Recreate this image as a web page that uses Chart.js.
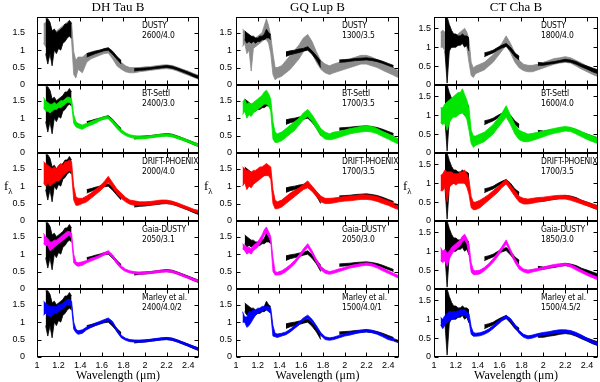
<!DOCTYPE html>
<html>
<head>
<meta charset="utf-8">
<script src="https://cdn.jsdelivr.net/npm/chart.js@4/dist/chart.umd.min.js"></script>
<style>
  body { margin: 0; width: 600px; height: 382px; background: #fff; position: relative; overflow: hidden; font-family: "Liberation Sans", Arial, sans-serif; }
  canvas { position: absolute; }
  .t { position: absolute; z-index: 2; font-family: "Liberation Serif", "Times New Roman", serif; color: #000; white-space: nowrap; transform: translateX(-50%); }
  .m { position: absolute; z-index: 2; font-family: "Liberation Sans Narrow", "DejaVu Sans Condensed", sans-serif; font-size: 8.5px; letter-spacing: -0.2px; line-height: 10px; color: #000; white-space: nowrap; }
  .fl { position: absolute; z-index: 2; font-family: "Liberation Serif", serif; font-size: 13px; color: #000; }
  .fl sub { font-size: 9px; }
</style>
</head>
<body>
<script>
// wavelength grid (micron) shared by all spectra
const W = [1.06,1.08,1.10,1.12,1.14,1.16,1.18,1.20,1.22,1.24,1.26,1.28,1.30,1.32,
           1.34,1.36,1.38,1.42,1.46,1.50,1.54,1.58,1.62,1.66,1.70,1.74,1.78,1.82,1.86,1.90,
           1.95,2.00,2.05,2.10,2.15,2.20,2.25,2.30,2.35,2.40,2.45,2.50];

const targets = ['DH Tau B', 'GQ Lup B', 'CT Cha B'];
const models = ['DUSTY', 'BT-Settl', 'DRIFT-PHOENIX', 'Gaia-DUSTY', 'Marley et al.'];
const params = [
  ['2600/4.0', '2400/3.0', '2000/4.0', '2050/3.1', '2400/4.0/2'],
  ['1300/3.5', '1700/3.5', '1700/3.5', '2050/3.0', '1500/4.0/1'],
  ['1800/4.0', '1600/4.0', '1700/3.5', '1850/3.0', '1500/4.5/2']
];
const xTicks = [1, 1.2, 1.4, 1.6, 1.8, 2, 2.2, 2.4];
const yTicks = [0, 0.5, 1, 1.5];
const yMax = [1.95, 1.95, 1.8];

// observed spectra (lower / upper edge of the noisy trace)
const dhObsLo = [null,0.9,0.6,0.9,0.55,1.0,0.9,1.05,1.0,1.2,1.25,1.35,1.4,1.35, null,null,null,null, 0.8,0.85,0.9,0.94,0.98,1.0,0.88,0.74,0.6, null,null, 0.4,0.42,0.43,0.45,0.47,0.49,0.5,0.48,0.43,0.37,0.31,0.24,0.18];
const dhObsHi = [null,1.9,1.9,1.8,1.55,1.6,1.5,1.55,1.6,1.65,1.75,1.75,1.85,1.75, null,null,null,null, 0.9,0.93,0.97,1.0,1.04,1.07,0.97,0.82,0.7, null,null, 0.47,0.48,0.49,0.5,0.52,0.54,0.56,0.54,0.49,0.43,0.37,0.31,0.25];
const gqObsLo = [null,1.3,1.2,1.25,1.2,1.25,1.2,1.25,1.25,1.3,1.3,1.35,1.35,1.3, null,null,null,null, 0.82,0.87,0.9,0.93,0.97,1.0,0.88,0.72,0.5, null,null, null,0.65,0.66,0.68,0.7,0.71,0.72,0.7,0.67,0.62,0.56,0.5,null];
const gqObsHi = [null,1.55,1.5,1.45,1.4,1.4,1.35,1.35,1.4,1.4,1.45,1.6,1.5,1.45, null,null,null,null, 0.95,0.98,1.0,1.03,1.05,1.1,0.98,0.84,0.68, null,null, null,0.72,0.73,0.74,0.76,0.77,0.78,0.76,0.73,0.68,0.62,0.56,null];
const ctObsLo = [null,null,0.9,0.05,0.9,1.0,1.0,1.0,1.05,1.05,1.1,1.0,1.05,0.9, null,null,null,null, 0.75,0.8,0.85,0.92,0.98,1.02,0.9,0.75,0.66, null,null, null,0.52,0.52,0.55,0.57,0.6,0.62,0.6,0.55,0.48,0.42,0.35,0.3];
const ctObsHi = [null,null,1.8,1.8,1.6,1.45,1.35,1.35,1.3,1.3,1.35,1.3,1.3,1.25, null,null,null,null, 0.85,0.88,0.92,0.99,1.05,1.1,1.0,0.85,0.76, null,null, null,0.6,0.58,0.6,0.62,0.65,0.68,0.66,0.62,0.55,0.5,0.45,0.4];

// DH Tau B models
const dhDustyLo = [1.2,1.1,1.0,1.05,0.9,1.1,1.1,1.15,1.2,1.25,1.35,1.4,1.45,1.3, 0.3,0.2,0.45,0.35, 0.65,0.75,0.8,0.85,0.9,0.92,0.75,0.55,0.45, 0.38,0.35, 0.35,0.38,0.4,0.42,0.44,0.46,0.47,0.45,0.4,0.34,0.28,0.22,0.16];
const dhDustyHi = [1.75,1.8,1.75,1.7,1.55,1.6,1.55,1.6,1.65,1.7,1.75,1.8,1.85,1.8, 0.95,0.7,0.8,0.8, 0.9,0.95,0.98,1.0,1.03,1.05,0.95,0.8,0.65, 0.55,0.5, 0.5,0.5,0.52,0.53,0.55,0.57,0.58,0.56,0.51,0.45,0.4,0.33,0.27];
const dhSettlLo = [1.3,1.2,1.2,1.15,1.2,1.25,1.25,1.3,1.3,1.35,1.4,1.45,1.45,1.4, 0.85,0.75,0.72,0.68, 0.75,0.8,0.85,0.92,0.97,0.98,0.85,0.7,0.58, 0.5,0.45, 0.42,0.4,0.41,0.43,0.45,0.47,0.48,0.46,0.41,0.36,0.3,0.24,0.18];
const dhSettlHi = [1.6,1.5,1.45,1.4,1.4,1.45,1.4,1.45,1.5,1.5,1.55,1.6,1.6,1.55, 1.1,0.9,0.85,0.8, 0.85,0.9,0.95,1.0,1.04,1.05,0.95,0.8,0.67, 0.58,0.52, 0.5,0.48,0.48,0.5,0.52,0.54,0.55,0.53,0.48,0.43,0.37,0.31,0.25];
const dhDriftLo = [1.1,1.0,1.1,1.0,1.05,1.1,1.15,1.15,1.2,1.3,1.35,1.4,1.45,1.4, 0.6,0.45,0.45,0.5, 0.55,0.65,0.75,0.85,0.97,1.12,0.95,0.78,0.65, 0.55,0.48, 0.45,0.45,0.45,0.46,0.48,0.5,0.5,0.48,0.43,0.37,0.32,0.26,0.22];
const dhDriftHi = [1.7,1.65,1.6,1.55,1.5,1.55,1.5,1.6,1.65,1.6,1.7,1.7,1.75,1.7, 1.0,0.7,0.65,0.65, 0.72,0.8,0.9,1.0,1.12,1.28,1.1,0.92,0.8, 0.68,0.6, 0.58,0.55,0.55,0.56,0.58,0.6,0.6,0.57,0.52,0.46,0.4,0.34,0.3];
const dhGaiaLo = [1.3,1.25,1.25,1.1,1.15,1.2,1.25,1.3,1.35,1.4,1.45,1.5,1.55,1.45, 0.75,0.68,0.65,0.68, 0.75,0.8,0.85,0.9,0.97,1.02,0.9,0.72,0.58, 0.5,0.46, 0.44,0.42,0.43,0.44,0.46,0.48,0.49,0.47,0.42,0.36,0.3,0.24,0.19];
const dhGaiaHi = [1.6,1.5,1.45,1.35,1.35,1.4,1.4,1.45,1.5,1.55,1.6,1.65,1.65,1.6, 1.0,0.78,0.75,0.78, 0.82,0.88,0.92,0.97,1.04,1.1,0.98,0.8,0.66, 0.57,0.52, 0.5,0.48,0.49,0.5,0.52,0.54,0.55,0.53,0.48,0.42,0.36,0.3,0.25];
const dhMarleyLo = [1.2,1.25,1.2,1.15,1.2,1.25,1.25,1.3,1.35,1.4,1.45,1.5,1.5,1.45, 0.8,0.7,0.65,0.68, 0.78,0.85,0.9,0.95,1.0,1.05,0.95,0.72,0.55, 0.48,0.44, 0.43,0.42,0.43,0.45,0.47,0.49,0.5,0.48,0.43,0.37,0.31,0.25,0.2];
const dhMarleyHi = [1.6,1.55,1.5,1.45,1.45,1.45,1.45,1.5,1.5,1.55,1.6,1.65,1.65,1.6, 1.0,0.8,0.75,0.78, 0.86,0.92,0.97,1.02,1.07,1.12,1.02,0.8,0.62, 0.54,0.5, 0.49,0.48,0.49,0.51,0.53,0.55,0.56,0.54,0.49,0.43,0.37,0.31,0.26];

// GQ Lup B models
const gqDustyLo = [1.1,1.2,0.9,1.0,0.4,1.05,1.1,1.15,1.2,1.25,1.3,1.3,1.2,0.9, 0.3,0.15,0.2,0.25, 0.35,0.45,0.6,0.75,0.95,1.1,0.9,0.65,0.45, 0.35,0.3, 0.35,0.4,0.45,0.5,0.55,0.6,0.6,0.55,0.5,0.42,0.35,0.28,0.2];
const gqDustyHi = [1.6,1.55,1.45,1.45,1.4,1.35,1.35,1.4,1.45,1.5,1.7,1.9,1.7,1.4, 0.9,0.5,0.5,0.55, 0.7,0.85,1.0,1.15,1.35,1.45,1.25,0.95,0.7, 0.6,0.55, 0.6,0.65,0.7,0.75,0.8,0.85,0.85,0.8,0.72,0.62,0.55,0.48,0.4];
const gqSettlLo = [1.1,1.2,1.0,1.1,1.05,1.15,1.2,1.25,1.3,1.35,1.4,1.4,1.35,1.2, 0.4,0.3,0.3,0.35, 0.45,0.55,0.65,0.8,0.95,1.05,0.9,0.7,0.5, 0.4,0.38, 0.4,0.45,0.5,0.55,0.58,0.6,0.62,0.6,0.55,0.47,0.4,0.32,0.25];
const gqSettlHi = [1.45,1.55,1.4,1.45,1.4,1.45,1.5,1.55,1.6,1.65,1.75,1.8,1.7,1.55, 0.9,0.6,0.55,0.6, 0.7,0.8,0.9,1.0,1.15,1.25,1.1,0.9,0.7, 0.6,0.55, 0.6,0.62,0.66,0.7,0.73,0.76,0.78,0.76,0.7,0.62,0.55,0.47,0.4];
const gqDriftLo = [1.0,1.1,0.9,1.0,0.95,1.05,1.1,1.15,1.2,1.25,1.3,1.3,1.3,1.2, 0.5,0.35,0.35,0.4, 0.5,0.6,0.7,0.8,0.9,0.95,0.85,0.7,0.55, 0.5,0.5, 0.52,0.55,0.57,0.58,0.6,0.62,0.62,0.6,0.56,0.5,0.45,0.38,0.32];
const gqDriftHi = [1.55,1.5,1.45,1.45,1.4,1.45,1.45,1.5,1.55,1.55,1.6,1.65,1.6,1.55, 0.9,0.6,0.55,0.6, 0.7,0.8,0.88,0.95,1.05,1.15,1.0,0.85,0.72, 0.65,0.65, 0.66,0.68,0.7,0.72,0.73,0.75,0.75,0.73,0.7,0.64,0.58,0.52,0.46];
const gqGaiaLo = [1.15,1.1,1.0,1.05,1.0,1.1,1.15,1.2,1.3,1.4,1.55,1.6,1.5,1.35, 0.5,0.4,0.4,0.42, 0.5,0.6,0.72,0.88,1.05,1.2,1.0,0.75,0.55, 0.45,0.42, 0.45,0.5,0.55,0.6,0.63,0.66,0.68,0.66,0.6,0.52,0.45,0.38,0.3];
const gqGaiaHi = [1.3,1.25,1.2,1.2,1.15,1.25,1.3,1.35,1.45,1.55,1.7,1.78,1.65,1.5, 0.9,0.5,0.48,0.52, 0.6,0.7,0.82,0.98,1.15,1.3,1.1,0.85,0.65, 0.55,0.5, 0.53,0.58,0.62,0.67,0.7,0.73,0.75,0.73,0.67,0.6,0.52,0.45,0.38];
const gqMarleyLo = [1.0,1.0,0.85,0.9,1.0,1.1,1.2,1.25,1.3,1.3,1.35,1.35,1.3,1.25, 0.6,0.58,0.56,0.6, 0.64,0.72,0.82,0.92,1.05,1.12,1.0,0.82,0.62, 0.5,0.48, 0.5,0.55,0.6,0.63,0.67,0.7,0.72,0.7,0.65,0.58,0.5,0.46,0.4];
const gqMarleyHi = [1.3,1.15,1.15,1.3,1.3,1.35,1.35,1.4,1.4,1.45,1.45,1.45,1.45,1.4, 0.9,0.68,0.66,0.68, 0.72,0.8,0.9,1.0,1.12,1.2,1.08,0.9,0.7, 0.58,0.55, 0.57,0.62,0.67,0.7,0.74,0.77,0.79,0.77,0.72,0.65,0.57,0.53,0.47];

// CT Cha B models
const ctDustyLo = [1.0,1.0,0.9,0.5,1.0,1.0,1.0,1.05,1.05,1.1,1.1,1.1,1.0,0.6, 0.25,0.2,0.3,0.35, 0.4,0.5,0.6,0.75,0.9,1.05,0.85,0.6,0.45, 0.38,0.35, 0.35,0.4,0.45,0.5,0.55,0.58,0.6,0.58,0.5,0.42,0.35,0.28,0.22];
const ctDustyHi = [1.4,1.45,1.4,1.4,1.35,1.3,1.3,1.3,1.35,1.4,1.45,1.5,1.4,1.2, 0.6,0.45,0.5,0.55, 0.6,0.7,0.8,0.95,1.1,1.3,1.1,0.85,0.65, 0.55,0.52, 0.52,0.55,0.6,0.65,0.7,0.72,0.75,0.72,0.65,0.58,0.5,0.43,0.37];
const ctSettlLo = [0.8,0.75,0.8,0.6,0.8,0.9,0.95,0.95,1.0,1.05,1.05,1.0,0.9,0.6, 0.25,0.15,0.2,0.25, 0.3,0.4,0.5,0.65,0.8,0.95,0.75,0.5,0.35, 0.3,0.3, 0.33,0.38,0.43,0.48,0.52,0.55,0.58,0.57,0.5,0.43,0.36,0.3,0.25];
const ctSettlHi = [1.2,1.2,1.3,1.35,1.4,1.45,1.5,1.55,1.6,1.6,1.7,1.55,1.4,1.2, 0.6,0.45,0.45,0.5, 0.55,0.65,0.75,0.9,1.05,1.25,1.0,0.75,0.6, 0.55,0.5, 0.52,0.55,0.58,0.62,0.65,0.68,0.7,0.68,0.63,0.57,0.5,0.45,0.4];
const ctDriftLo = [0.8,0.8,0.9,0.5,0.9,0.95,1.0,0.95,1.0,1.0,1.0,1.0,0.9,0.7, 0.35,0.3,0.3,0.35, 0.45,0.55,0.65,0.75,0.88,0.98,0.82,0.65,0.5, 0.45,0.45, 0.47,0.5,0.52,0.55,0.57,0.58,0.58,0.55,0.5,0.45,0.4,0.35,0.3];
const ctDriftHi = [1.2,1.25,1.35,1.3,1.3,1.3,1.25,1.25,1.25,1.3,1.3,1.35,1.25,1.1, 0.65,0.5,0.5,0.55, 0.62,0.7,0.8,0.9,1.0,1.1,0.95,0.8,0.65, 0.6,0.58, 0.6,0.62,0.63,0.65,0.67,0.68,0.68,0.65,0.6,0.55,0.5,0.45,0.4];
const ctGaiaLo = [0.75,0.7,0.75,0.6,0.8,0.9,1.0,1.05,1.1,1.15,1.25,1.3,1.2,0.9, 0.45,0.38,0.38,0.4, 0.48,0.58,0.7,0.85,1.02,1.2,0.95,0.7,0.52, 0.45,0.42, 0.45,0.48,0.52,0.55,0.58,0.6,0.62,0.58,0.5,0.43,0.36,0.3,0.24];
const ctGaiaHi = [1.1,1.0,1.05,0.95,1.0,1.1,1.15,1.2,1.25,1.3,1.4,1.45,1.35,1.2, 0.7,0.5,0.48,0.5, 0.57,0.67,0.8,0.95,1.12,1.3,1.05,0.8,0.62, 0.53,0.5, 0.52,0.55,0.58,0.62,0.65,0.67,0.68,0.65,0.58,0.5,0.43,0.37,0.31];
const ctMarleyLo = [0.85,0.75,0.85,0.9,0.95,1.0,1.0,1.05,1.05,1.1,1.1,1.1,1.05,0.95, 0.6,0.55,0.55,0.56, 0.6,0.66,0.75,0.85,0.95,1.02,0.95,0.78,0.62, 0.52,0.48, 0.5,0.55,0.58,0.6,0.62,0.64,0.65,0.62,0.57,0.5,0.43,0.37,0.3];
const ctMarleyHi = [1.05,1.0,1.1,1.15,1.2,1.2,1.2,1.2,1.22,1.25,1.25,1.25,1.2,1.15, 0.8,0.65,0.63,0.64, 0.68,0.74,0.83,0.93,1.03,1.1,1.02,0.86,0.7, 0.6,0.56, 0.58,0.62,0.65,0.67,0.7,0.72,0.72,0.7,0.65,0.58,0.5,0.44,0.37];

const obsLo = [dhObsLo, gqObsLo, ctObsLo];
const obsHi = [dhObsHi, gqObsHi, ctObsHi];
const modelLo = [
  [dhDustyLo, dhSettlLo, dhDriftLo, dhGaiaLo, dhMarleyLo],
  [gqDustyLo, gqSettlLo, gqDriftLo, gqGaiaLo, gqMarleyLo],
  [ctDustyLo, ctSettlLo, ctDriftLo, ctGaiaLo, ctMarleyLo]
];
const modelHi = [
  [dhDustyHi, dhSettlHi, dhDriftHi, dhGaiaHi, dhMarleyHi],
  [gqDustyHi, gqSettlHi, gqDriftHi, gqGaiaHi, gqMarleyHi],
  [ctDustyHi, ctSettlHi, ctDriftHi, ctGaiaHi, ctMarleyHi]
];
const modelColors = ['#8c8c8c', '#00e600', '#ff0000', '#ff00ff', '#0000ff'];

// page layout
const PLOT_L = [37, 236, 434];
const PLOT_W = [162, 163, 164];
const TOP = 17, ROW_H = 68, AXW = 34;
const yPad = [12, 4, 3];
const flX = [4, 204, 403];
const tickFont = { family: 'Liberation Sans', size: 9 };

// noisy trace drawn as a filled band between its lower and upper edge
function band(lo, hi, color) {
  const base = { borderColor: color, borderWidth: 0.8, pointRadius: 0, tension: 0, spanGaps: false };
  return [
    Object.assign({ data: W.map((x, i) => ({ x, y: lo[i] })), fill: false }, base),
    Object.assign({ data: W.map((x, i) => ({ x, y: hi[i] })), fill: '-1', backgroundColor: color }, base)
  ];
}

// frame with inward ticks on all four sides
const frame = {
  id: 'frame',
  afterDraw(chart) {
    const { ctx, chartArea: a, scales: { x, y } } = chart;
    const l = Math.round(a.left) + 0.5, r = Math.round(a.right) - 0.5;
    const t = Math.round(a.top) + 0.5, b = Math.round(a.bottom) - 0.5;
    ctx.save();
    ctx.strokeStyle = '#000';
    ctx.lineWidth = 1;
    ctx.beginPath();
    xTicks.forEach(v => {
      const px = Math.round(x.getPixelForValue(v)) + 0.5;
      ctx.moveTo(px, b); ctx.lineTo(px, b - 4);
      ctx.moveTo(px, t); ctx.lineTo(px, t + 4);
    });
    yTicks.forEach(v => {
      const py = Math.round(y.getPixelForValue(v)) + 0.5;
      ctx.moveTo(l, py); ctx.lineTo(l + 4, py);
      ctx.moveTo(r, py); ctx.lineTo(r - 4, py);
    });
    ctx.stroke();
    ctx.strokeRect(l, t, r - l, b - t);
    ctx.restore();
  }
};

function addText(cls, html, left, top, size) {
  const d = document.createElement('div');
  d.className = cls;
  d.innerHTML = html;
  d.style.left = left + 'px';
  d.style.top = top + 'px';
  if (size) d.style.fontSize = size + 'px';
  document.body.appendChild(d);
}

function panel(c, r) {
  const bottomRow = r === 4;
  const w = AXW + PLOT_W[c] + 3;
  const h = 5 + ROW_H + (bottomRow ? 17 : 5);
  const cv = document.createElement('canvas');
  cv.width = w;
  cv.height = h;
  cv.style.width = w + 'px';
  cv.style.height = h + 'px';
  cv.style.left = (PLOT_L[c] - AXW) + 'px';
  cv.style.top = (TOP + r * ROW_H - 5) + 'px';
  document.body.appendChild(cv);

  const model = band(modelLo[c][r], modelHi[c][r], modelColors[r]);
  const obs = band(obsLo[c], obsHi[c], '#000');
  // lower index is drawn on top
  const datasets = r === 0 ? obs.concat(model) : model.concat(obs);

  new Chart(cv, {
    type: 'line',
    data: { datasets },
    options: {
      responsive: false,
      maintainAspectRatio: false,
      devicePixelRatio: 1,
      animation: false,
      events: [],
      layout: { padding: { top: 5, bottom: bottomRow ? 1 : 5, left: 0, right: 3 } },
      plugins: { legend: { display: false }, tooltip: { enabled: false } },
      scales: {
        x: {
          type: 'linear', min: 1, max: 2.5, display: bottomRow,
          afterBuildTicks: s => { s.ticks = xTicks.map(v => ({ value: v })); },
          afterFit: s => {
            s.height = bottomRow ? 16 : 0;
            s.paddingLeft = 0; s.paddingRight = 0;
          },
          grid: { display: false, drawTicks: false },
          border: { display: false },
          ticks: { color: '#000', font: tickFont, padding: 3, maxRotation: 0, autoSkip: false, callback: v => String(v) }
        },
        y: {
          min: 0, max: yMax[c],
          afterBuildTicks: s => { s.ticks = yTicks.map(v => ({ value: v })); },
          afterFit: s => {
            s.width = AXW;
            s.paddingTop = 0; s.paddingBottom = 0;
          },
          grid: { display: false, drawTicks: false },
          border: { display: false },
          ticks: { color: '#000', font: tickFont, padding: yPad[c], autoSkip: false, callback: v => String(v) }
        }
      }
    },
    plugins: [frame]
  });

  addText('m', models[r] + '<br>' + params[c][r], PLOT_L[c] + PLOT_W[c] - 57, TOP + r * ROW_H + 3);
}

for (let c = 0; c < 3; c++) {
  const mid = PLOT_L[c] + PLOT_W[c] / 2;
  addText('t', targets[c], mid, -1, 13);
  addText('t', 'Wavelength (\u03bcm)', mid, 368, 12);
  addText('fl', 'f<sub>\u03bb</sub>', flX[c], 178);
  for (let r = 0; r < 5; r++) panel(c, r);
}
</script>
</body>
</html>
